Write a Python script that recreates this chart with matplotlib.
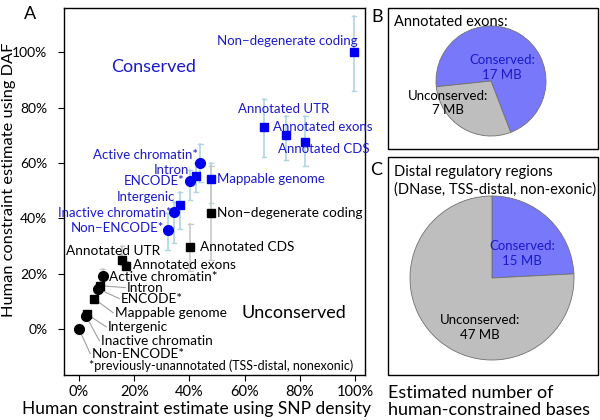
import matplotlib
matplotlib.use("Agg")
import matplotlib.pyplot as plt
from matplotlib.patches import Rectangle

plt.rcParams["font.family"] = ["Lato", "DejaVu Sans"]

# ---- panel A data (percent) ----
blue_names = ["Non\u2212degenerate coding", "Annotated UTR", "Annotated exons", "Annotated CDS",
              "Active chromatin*", "Intron", "ENCODE*", "Mappable genome",
              "Intergenic", "Inactive chromatin*", "Non\u2212ENCODE*"]
blue_x = [99.6, 67.0, 75.0, 82.0, 44.0, 42.3, 40.2, 47.8, 36.6, 34.4, 32.1]
blue_y = [100.0, 72.8, 70.0, 67.4, 60.0, 55.4, 53.6, 54.0, 44.7, 42.2, 35.9]
blue_lo = [86.0, 62.0, 61.0, 59.0, 53.0, 49.6, 46.7, 45.6, 36.0, 31.0, 28.6]
blue_hi = [113.0, 83.0, 77.0, 77.0, 67.0, 60.0, 57.6, 60.0, 49.6, 46.0, 42.0]
blue_marker = ["s", "s", "s", "s", "o", "s", "o", "s", "s", "o", "o"]

black_names = ["Non\u2212degenerate coding", "Annotated CDS", "Annotated UTR", "Annotated exons",
               "Active chromatin*", "Intron", "ENCODE*", "Mappable genome",
               "Intergenic", "Inactive chromatin", "Non-ENCODE*"]
black_x = [48.0, 40.4, 15.5, 17.0, 8.6, 7.6, 7.0, 5.5, 2.8, 2.5, 0.0]
black_y = [42.0, 29.5, 25.0, 22.8, 19.0, 15.6, 14.5, 10.9, 5.4, 4.8, 0.0]
black_lo = [25.0, 21.0, 23.0, 21.5, 17.5, 14.5, 13.5, 10.0, 4.5, 4.0, -0.5]
black_hi = [59.0, 38.0, 30.0, 24.5, 21.5, 17.0, 15.5, 12.0, 6.5, 5.8, 0.5]
black_marker = ["s", "s", "s", "s", "o", "s", "o", "s", "s", "o", "o"]

x_ticks = [0, 20, 40, 60, 80, 100]
y_ticks = [0, 20, 40, 60, 80, 100]

# ---- panel B / C data (MB) ----
exon_labels = ["Conserved:\n17 MB", "Unconserved:\n7 MB"]
exon_mb = [17, 7]
distal_labels = ["Conserved:\n15 MB", "Unconserved:\n47 MB"]
distal_mb = [15, 47]

BLUE = "#0000ee"
TXT_BLUE = "#1a1acc"
ERR_BLUE = "#b0d4e0"
ERR_GREY = "#c8c8c8"
PIE_BLUE = "#7878fa"
PIE_GREY = "#bebebe"

fig = plt.figure(figsize=(6, 4.2), dpi=100)
W, H = 600.0, 420.0


def fig_rect(x0, y0, x1, y1):
    return [x0 / W, 1 - y1 / H, (x1 - x0) / W, (y1 - y0) / H]


ax = fig.add_axes(fig_rect(64, 8, 365, 375))
ax.set_xlim(-5.4, 103.6)
ax.set_ylim(-16.7, 116)

for i in range(len(blue_x)):
    ax.plot([blue_x[i], blue_x[i]], [blue_lo[i], blue_hi[i]], color=ERR_BLUE, lw=1.2, zorder=1)
    for yy in (blue_lo[i], blue_hi[i]):
        ax.plot([blue_x[i] - 0.8, blue_x[i] + 0.8], [yy, yy], color=ERR_BLUE, lw=1.0, zorder=1)
    ms = 6 if blue_marker[i] == "s" else 7
    ax.plot(blue_x[i], blue_y[i], marker=blue_marker[i], color=BLUE, ms=ms, ls="none", zorder=3)

for i in range(len(black_x)):
    ax.plot([black_x[i], black_x[i]], [black_lo[i], black_hi[i]], color=ERR_GREY, lw=1.2, zorder=1)
    for yy in (black_lo[i], black_hi[i]):
        ax.plot([black_x[i] - 0.8, black_x[i] + 0.8], [yy, yy], color=ERR_GREY, lw=1.0, zorder=1)
    ms = 6 if black_marker[i] == "s" else 7
    ax.plot(black_x[i], black_y[i], marker=black_marker[i], color="black", ms=ms, ls="none", zorder=3)

# label placement (x, y, ha)
blue_text_pos = [(101, 104, "right"), (74, 79.3, "center"), (70.3, 73.0, "left"), (72, 64.9, "left"),
                 (43, 62.7, "right"), (39.9, 57.6, "right"), (38.4, 53.3, "right"), (50, 54, "left"),
                 (34.8, 47.5, "right"), (33.7, 42.0, "right"), (31.0, 36.6, "right")]
for name, (tx, ty, ha) in zip(blue_names, blue_text_pos):
    ax.text(tx, ty, name, color=TXT_BLUE, fontsize=9.5, ha=ha, va="center")

black_text_pos = [(50, 42, "left"), (43.8, 29.7, "left"), (29.3, 28.3, "right"), (19.6, 23.2, "left"),
                  (10.9, 18.8, "left"), (17.4, 14.9, "left"), (15.2, 10.9, "left"), (13.0, 5.8, "left"),
                  (10.5, 0.7, "left"), (8.0, -4.3, "left"), (4.7, -9.0, "left")]
for i, (name, (tx, ty, ha)) in enumerate(zip(black_names, black_text_pos)):
    ax.text(tx, ty, name, color="black", fontsize=9.8, ha=ha, va="center")
    if i >= 5:
        ax.plot([black_x[i], tx - 0.6], [black_y[i], ty], color="#a0a0a0", lw=0.8, zorder=2)

ax.text(27, 94.6, "Conserved", color=TXT_BLUE, fontsize=13, ha="center", va="center")
ax.text(78, 5.8, "Unconserved", color="black", fontsize=13, ha="center", va="center")
ax.text(3.6, -13.4, "*previously-unannotated (TSS-distal, nonexonic)", fontsize=9,
        ha="left", va="center")

ax.set_xticks(x_ticks)
ax.set_xticklabels([f"{v}%" for v in x_ticks])
ax.set_yticks(y_ticks)
ax.set_yticklabels([f"{v}%" for v in y_ticks])
ax.tick_params(labelsize=10.5, length=4)
ax.tick_params(axis="x", pad=3)
ax.tick_params(axis="y", pad=8, labelsize=10)
for s in ax.spines.values():
    s.set_linewidth(1.0)

fig.text(197 / W, 1 - 409 / H, "Human constraint estimate using SNP density", fontsize=12.5,
         ha="center", va="center")
fig.text(9 / W, 1 - 180 / H, "Human constraint estimate using DAF", fontsize=11.8,
         ha="center", va="center", rotation=90)

fig.text(30 / W, 1 - 14 / H, "A", fontsize=13, ha="center", va="center")
fig.text(377 / W, 1 - 17 / H, "B", fontsize=13, ha="center", va="center")
fig.text(376 / W, 1 - 170 / H, "C", fontsize=13, ha="center", va="center")

# panel frames
for y0, y1 in ((8, 149), (157, 375)):
    fig.patches.append(Rectangle((388 / W, 1 - y1 / H), (598 - 388) / W, (y1 - y0) / H,
                                 transform=fig.transFigure, fill=False, ec="black", lw=1.0))

fig.text(394 / W, 1 - 22 / H, "Annotated exons:", fontsize=10.5, ha="left", va="center")
fig.text(394 / W, 1 - 172 / H, "Distal regulatory regions", fontsize=10.5, ha="left", va="center")
fig.text(394 / W, 1 - 190 / H, "(DNase, TSS-distal, non-exonic)", fontsize=10.5, ha="left", va="center")

axb = fig.add_axes(fig_rect(436, 26, 546, 136))
axb.pie(exon_mb, colors=[PIE_BLUE, PIE_GREY], startangle=186, counterclock=False,
        wedgeprops=dict(edgecolor="#707070", linewidth=0.6))
axb.set_xlim(-1, 1)
axb.set_ylim(-1, 1)
axb.text(0.2, 0.24, exon_labels[0], color=TXT_BLUE, fontsize=9.5, ha="center", va="center",
         linespacing=1.3)
axb.text(-0.78, -0.4, exon_labels[1], color="black", fontsize=9.5, ha="center", va="center",
         linespacing=1.3)

axc = fig.add_axes(fig_rect(410, 196, 574, 360))
axc.pie(distal_mb, colors=[PIE_BLUE, PIE_GREY], startangle=90, counterclock=False,
        wedgeprops=dict(edgecolor="#707070", linewidth=0.6))
axc.set_xlim(-1, 1)
axc.set_ylim(-1, 1)
axc.text(0.37, 0.3, distal_labels[0], color=TXT_BLUE, fontsize=9.5, ha="center", va="center",
         linespacing=1.3)
axc.text(-0.15, -0.6, distal_labels[1], color="black", fontsize=9.5, ha="center", va="center",
         linespacing=1.3)

fig.text(388 / W, 1 - 393 / H, "Estimated number of", fontsize=13, ha="left", va="center")
fig.text(388 / W, 1 - 410 / H, "human-constrained bases", fontsize=13, ha="left", va="center")

fig.savefig("out.png", dpi=100)
